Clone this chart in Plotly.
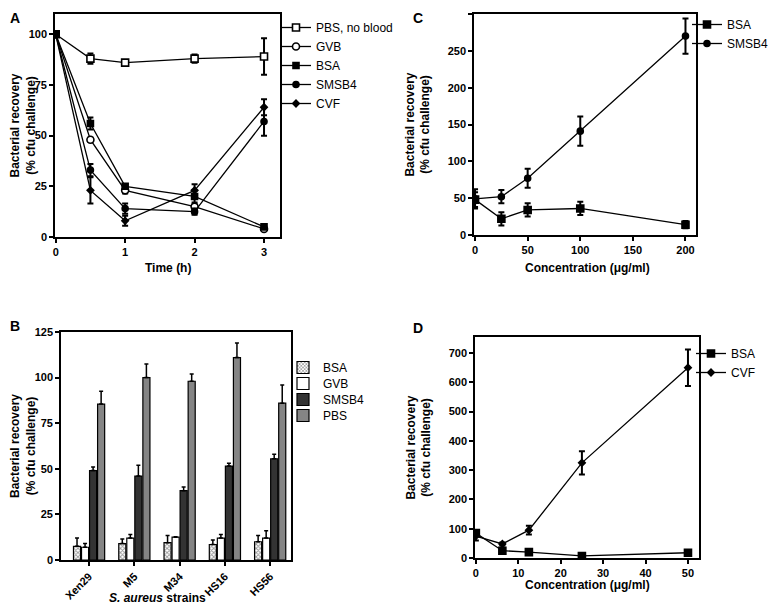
import plotly.graph_objects as go

# The page body has an 8px margin, so the figure is 8px smaller and all
# window-pixel positions below are shifted by that offset.
OFF = 8
W, H = 776 - OFF, 608 - OFF

# ---------------- Data ----------------
# Panel A: time course
time_h = [0, 0.5, 1, 2, 3]
a_pbs = [100, 88, 86, 88, 89]
a_pbs_err = [0, 2.5, 1, 2, 9]
a_gvb = [100, 48, 23, 15, 4]
a_gvb_err = [0, 1, 1.5, 1, 1]
a_bsa = [100, 56, 25, 20, 5]
a_bsa_err = [0, 3, 1, 3, 1]
a_smsb4 = [100, 33, 14, 12.5, 57]
a_smsb4_err = [0, 3, 2.5, 1.5, 7]
a_cvf = [100, 23, 8, 23, 64]
a_cvf_err = [0, 6.5, 2.5, 3, 4]

# Panel B: strains
strains = ["Xen29", "M5", "M34", "HS16", "HS56"]
b_bsa = [7.5, 9, 9.5, 8.5, 10]
b_bsa_err = [4.5, 2.5, 4, 2.5, 3.5]
b_gvb = [7, 12, 12.5, 12, 12]
b_gvb_err = [2, 2, 0.3, 2, 4]
b_smsb4 = [49, 46, 38, 51.5, 55.5]
b_smsb4_err = [2, 6, 2, 1.5, 2.5]
b_pbs = [85.5, 100, 98, 111, 86]
b_pbs_err = [7, 7.5, 4, 8, 10]

# Panel C: SMSB4 concentration
c_conc = [0, 25, 50, 100, 200]
c_bsa = [48, 22, 34, 36, 14]
c_bsa_err = [10, 9, 9, 9, 5]
c_smsb4 = [49, 52, 77, 141, 270]
c_smsb4_err = [13, 9, 13, 20, 24]

# Panel D: CVF concentration
d_conc = [0, 6.25, 12.5, 25, 50]
d_bsa = [85, 25, 20, 7, 18]
d_bsa_err = [10, 4, 4, 3, 3]
d_cvf = [75, 48, 95, 325, 650]
d_cvf_err = [15, 5, 15, 40, 62]

# ---------------- Styling helpers ----------------
FONT = "Liberation Sans, Arial, sans-serif"


def px_x(p):
    return (p - OFF) / W


def px_y(p):
    return 1 - (p - OFF) / H


def err(v):
    return dict(type="data", array=v, visible=True, color="black", thickness=2, width=3)


def line_trace(x, y, e, name, symbol, fill, size, xa, ya, legend):
    return go.Scatter(
        x=x, y=y, name=name, mode="lines+markers",
        line=dict(color="black", width=1.3),
        marker=dict(symbol=symbol, size=size, color=fill, line=dict(color="black", width=1.6)),
        error_y=err(e), xaxis=xa, yaxis=ya, legend=legend,
    )


fig = go.Figure()

# Panel A
fig.add_trace(line_trace(time_h, a_pbs, a_pbs_err, "PBS, no blood", "square", "white", 7, "x", "y", "legend"))
fig.add_trace(line_trace(time_h, a_gvb, a_gvb_err, "GVB", "circle", "white", 7, "x", "y", "legend"))
fig.add_trace(line_trace(time_h, a_bsa, a_bsa_err, "BSA", "square", "black", 6, "x", "y", "legend"))
fig.add_trace(line_trace(time_h, a_smsb4, a_smsb4_err, "SMSB4", "circle", "black", 6, "x", "y", "legend"))
fig.add_trace(line_trace(time_h, a_cvf, a_cvf_err, "CVF", "diamond", "black", 5, "x", "y", "legend"))


# Panel B bars
def bar_trace(y, e, name, color, legend, pattern=None):
    m = dict(color=color, line=dict(color="black", width=1.2))
    if pattern:
        m["pattern"] = pattern
    return go.Bar(
        x=strains, y=y, name=name, marker=m,
        error_y=dict(type="data", array=e, arrayminus=[0] * len(e), symmetric=False,
                     visible=True, color="black", thickness=1.5, width=2),
        xaxis="x2", yaxis="y2", legend=legend,
    )


fig.add_trace(bar_trace(b_bsa, b_bsa_err, "BSA", "white", "legend2",
                        dict(shape="x", fgcolor="#333333", bgcolor="white", size=3, solidity=0.5)))
fig.add_trace(bar_trace(b_gvb, b_gvb_err, "GVB", "white", "legend5"))
fig.add_trace(bar_trace(b_smsb4, b_smsb4_err, "SMSB4", "#333333", "legend6"))
fig.add_trace(bar_trace(b_pbs, b_pbs_err, "PBS", "#858585", "legend7"))

# Panel C
fig.add_trace(line_trace(c_conc, c_bsa, c_bsa_err, "BSA", "square", "black", 7, "x3", "y3", "legend3"))
fig.add_trace(line_trace(c_conc, c_smsb4, c_smsb4_err, "SMSB4", "circle", "black", 6, "x3", "y3", "legend3"))

# Panel D
fig.add_trace(line_trace(d_conc, d_bsa, d_bsa_err, "BSA", "square", "black", 7, "x4", "y4", "legend4"))
fig.add_trace(line_trace(d_conc, d_cvf, d_cvf_err, "CVF", "diamond", "black", 5, "x4", "y4", "legend4"))

tickfont = dict(family=FONT, size=11, color="black", weight="bold")
titlefont = dict(family=FONT, size=12, color="black", weight="bold")


def axis(domain, rng, **kw):
    d = dict(domain=domain, range=rng, showline=True, linecolor="black", linewidth=1.6,
             mirror=True, ticks="outside", ticklen=4, tickwidth=1.5, tickcolor="black",
             showgrid=False, zeroline=False, tickfont=tickfont, automargin=False)
    d.update(kw)
    return d


def leg(xp, yp):
    return dict(x=px_x(xp), y=px_y(yp), xanchor="left", yanchor="top",
                font=dict(family=FONT, size=12, color="black"),
                bgcolor="rgba(0,0,0,0)", tracegroupgap=0, itemwidth=30)


ytitle = "Bacterial recovery<br>(% cfu challenge)"

fig.update_layout(
    width=W, height=H,
    margin=dict(l=0, r=0, t=0, b=0, autoexpand=False),
    paper_bgcolor="white", plot_bgcolor="white",
    font=dict(family=FONT, color="black"),
    barmode="group", bargap=0.29, bargroupgap=0.12,
    xaxis=axis([px_x(55), px_x(280)], [-0.01, 3.23], tickvals=[0, 1, 2, 3], anchor="y"),
    yaxis=axis([px_y(237), px_y(14)], [0, 110], tickvals=[0, 25, 50, 75, 100], anchor="x",
               title=dict(text=ytitle, font=titlefont)),
    xaxis2=axis([px_x(61), px_x(291)], [-0.62, 4.46], anchor="y2", tickangle=-45),
    yaxis2=axis([px_y(560), px_y(332)], [0, 125], tickvals=[0, 25, 50, 75, 100, 125], anchor="x2",
                title=dict(text=ytitle, font=titlefont)),
    xaxis3=axis([px_x(474), px_x(696)], [-1, 210], tickvals=[0, 50, 100, 150, 200], anchor="y3"),
    yaxis3=axis([px_y(235), px_y(14)], [0, 300], tickvals=[0, 50, 100, 150, 200, 250, 300], anchor="x3",
                title=dict(text=ytitle, font=titlefont)),
    xaxis4=axis([px_x(475), px_x(699)], [-0.2, 52.6], tickvals=[0, 10, 20, 30, 40, 50], anchor="y4"),
    yaxis4=axis([px_y(558), px_y(337)], [0, 755], tickvals=[0, 100, 200, 300, 400, 500, 600, 700], anchor="x4",
                title=dict(text=ytitle, font=titlefont)),
    legend=leg(276, 13),
    legend2=leg(283, 353),
    legend5=leg(283, 369),
    legend6=leg(283, 385),
    legend7=leg(283, 401),
    legend3=leg(687, 10),
    legend4=leg(691, 339),
    showlegend=True,
)

# x-axis titles
for txt, xp, yp in [("Time (h)", 168, 268),
                    ("<i>S. aureus</i> strains", 157, 598),
                    ("Concentration (μg/ml)", 587, 268),
                    ("Concentration (μg/ml)", 587, 585)]:
    fig.add_annotation(text=txt, x=px_x(xp), y=px_y(yp), xref="paper", yref="paper",
                       xanchor="center", yanchor="middle", showarrow=False, font=titlefont)

# panel letters
for txt, xp, yp in [("A", 8, 8), ("B", 8, 316), ("C", 411, 8), ("D", 411, 318)]:
    fig.add_annotation(text=txt, x=px_x(xp), y=px_y(yp), xref="paper", yref="paper",
                       xanchor="left", yanchor="top", showarrow=False,
                       font=dict(family=FONT, size=14, color="black", weight="bold"))

fig.write_html("out.html")
